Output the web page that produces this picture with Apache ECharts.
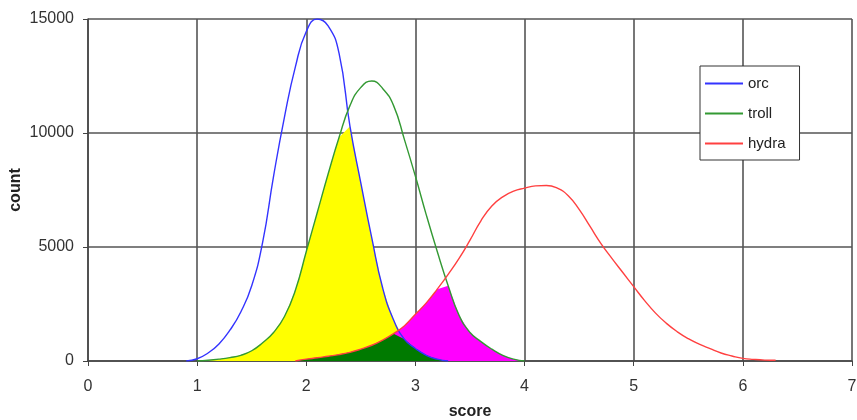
<!DOCTYPE html>
<html>
<head>
<meta charset="utf-8">
<script src="https://cdn.jsdelivr.net/npm/echarts@6/dist/echarts.min.js"></script>
<style>
html,body{margin:0;padding:0;background:#fff;}
#chart{width:857px;height:420px;}
</style>
</head>
<body>
<div id="chart"></div>
<script>
// score sample points
const score = [0.9,1.0,1.1,1.2,1.3,1.4,1.5,1.6,1.7,1.8,1.9,2.0,2.1,2.2,2.3,2.4,2.5,2.6,2.7,2.8,2.9,3.0,3.1,3.2,3.3,3.4,3.5,3.6,3.7,3.8,3.9,4.0,4.1,4.2,4.3,4.4,4.5,4.6,4.7,4.8,4.9,5.0,5.1,5.2,5.3,5.4,5.5,5.6,5.7,5.8,5.9,6.0,6.1,6.2,6.3];
const orc = [0,100,350,750,1350,2150,3300,5200,8100,10700,12900,14450,15000,14700,13500,10300,7800,5400,3200,1800,950,550,250,80,0,
  null,null,null,null,null,null,null,null,null,null,null,null,null,null,null,null,null,null,null,null,null,null,null,null,null,null,null,null,null,null];
const troll = [null,0,30,80,150,250,450,800,1250,1950,3100,4800,6500,8200,9800,11200,12000,12280,11950,11200,9700,8100,6400,4800,3300,2000,1250,850,520,250,80,0,
  null,null,null,null,null,null,null,null,null,null,null,null,null,null,null,null,null,null,null,null,null,null,null];
const hydra = [null,null,null,null,null,null,null,null,null,null,0,80,140,210,280,380,520,690,920,1200,1550,2050,2550,3150,3800,4500,5300,6150,6800,7200,7450,7580,7680,7700,7580,7250,6650,5900,5150,4500,3880,3260,2650,2100,1650,1280,980,740,540,350,220,115,70,40,30];
const xTicks = [0,1,2,3,4,5,6,7];
const yTicks = [0,5000,10000,15000];

const v = a => a.map(x => x == null ? 0 : x);
const pairs = a => score.map((x,i) => [x, a[i]]).filter(p => p[1] != null);
const O = v(orc), T = v(troll), H = v(hydra);
const yellowVals = score.map((x,i) => Math.min(O[i], T[i]));
const magentaVals = score.map((x,i) => Math.min(T[i], H[i]));
const greenVals = score.map((x,i) => Math.min(O[i], T[i], H[i]));

const fill = (name, vals, color) => ({
  name: name, type: 'line', data: pairs(vals), symbol: 'none', smooth: false,
  lineStyle: {width: 0, opacity: 0}, areaStyle: {color: color, opacity: 1},
  silent: true, z: 1
});
const curve = (name, vals, color) => ({
  name: name, type: 'line', data: pairs(vals), symbol: 'none', smooth: 0.5,
  lineStyle: {width: 1.4, color: color}, itemStyle: {color: color}, z: 3
});

const chart = echarts.init(document.getElementById('chart'), null, {renderer: 'canvas'});
chart.setOption({
  animation: false,
  backgroundColor: '#ffffff',
  textStyle: {fontFamily: 'Liberation Sans, Arial, sans-serif'},
  grid: {left: 88, right: 5, top: 19, bottom: 59, containLabel: false, outerBoundsMode: 'none'},
  legend: {
    orient: 'vertical', left: 700, top: 66,
    data: [{name:'orc', icon:'rect'},{name:'troll', icon:'rect'},{name:'hydra', icon:'rect'}],
    itemWidth: 38, itemHeight: 2, itemGap: 15,
    padding: [10, 14, 9, 5],
    backgroundColor: '#ffffff', borderColor: '#333', borderWidth: 1,
    textStyle: {fontSize: 15, color: '#222', fontFamily: 'Liberation Sans, Arial, sans-serif'}
  },
  xAxis: {
    type: 'value', min: xTicks[0], max: xTicks[xTicks.length-1], interval: 1,
    name: 'score', nameLocation: 'middle', nameGap: 43, nameMoveOverlap: false,
    nameTextStyle: {fontSize: 16, fontWeight: 'bold', color: '#222'},
    axisLine: {show: true, lineStyle: {color: '#444', width: 1.5}},
    axisTick: {show: true, length: 5, lineStyle: {color: '#444'}},
    axisLabel: {fontSize: 16, color: '#333', margin: 18},
    splitLine: {show: true, lineStyle: {color: '#555', width: 1.6}}
  },
  yAxis: {
    type: 'value', min: yTicks[0], max: yTicks[yTicks.length-1], interval: 5000,
    name: 'count', nameLocation: 'middle', nameGap: 64, nameMoveOverlap: false,
    nameTextStyle: {fontSize: 16, fontWeight: 'bold', color: '#222'},
    axisLine: {show: true, lineStyle: {color: '#444', width: 1.5}},
    axisTick: {show: true, length: 5, lineStyle: {color: '#444'}},
    axisLabel: {fontSize: 16, color: '#333', margin: 14, formatter: val => String(val)},
    splitLine: {show: true, lineStyle: {color: '#555', width: 1.6}}
  },
  series: [
    fill('yellowFill', yellowVals, '#ffff00'),
    fill('magentaFill', magentaVals, '#ff00ff'),
    fill('greenFill', greenVals, '#007a00'),
    curve('orc', orc, '#3333ff'),
    curve('troll', troll, '#339933'),
    curve('hydra', hydra, '#ff4040')
  ]
});
</script>
</body>
</html>
